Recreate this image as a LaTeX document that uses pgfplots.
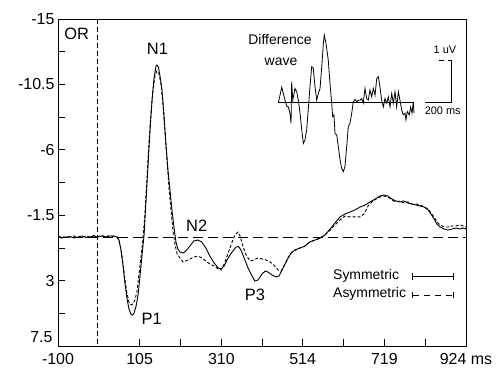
\documentclass[border=0pt]{standalone}
\usepackage{fontspec}
\setmainfont{Liberation Sans}
\usepackage{pgfplots}
\pgfplotsset{compat=1.18}
\begin{document}
\begin{tikzpicture}
\useasboundingbox (-58bp,-24bp) rectangle (443bp,346bp);
\begin{axis}[
  at={(0,0)}, anchor=south west,
  scale only axis, width=408bp, height=327bp,
  xmin=-100, xmax=924, ymin=-15, ymax=7.5, y dir=reverse,
  xtick={-100,105,310,514,719,924},
  xticklabels={-100,105,310,514,719,924 ms},
  minor xtick={207.5,412,616.5,821.5},
  ytick={-15,-10.5,-6,-1.5,3,7.5},
  yticklabels={-15,-10.5,-6,-1.5,3,},
  minor ytick={-12.75,-8.25,-3.75,0.75,5.25},
  tick align=inside, tick pos=left,
  major tick length=7bp, minor tick length=7bp,
  tick style={black, line width=0.8bp},
  axis line style={line width=0.8bp},
  tick label style={font=\fontsize{16}{18}\selectfont},
  xticklabel style={yshift=-4bp},
]
\addplot[black, dash pattern=on 5bp off 3bp, line width=0.8bp] coordinates {(0,-15) (0,7.5)};
\addplot[black, dash pattern=on 10bp off 5bp, line width=0.8bp] coordinates {(-100,0) (924,0)};
% Symmetric
\addplot[black, line width=0.9bp] coordinates {
(-100,0) (-90,0.07) (-80,0) (-70,-0.03) (-60,0.07) (-50,0) (-40,-0.07) (-30,0.03) (-20,0) (-10,-0.07)
(0,0) (10,-0.07) (20,0) (31,-0.07) (41,-0.07) (48,0) (53,0.21) (58,0.89) (63,1.93) (68,3.16)
(73,4.20) (78,4.95) (83,5.30) (87,5.37) (91,5.23) (96,4.75) (101,3.99) (106,2.61) (111,1.24) (116,-0.14)
(121,-2.55) (126,-4.95) (131,-7.36) (136,-9.43) (141,-10.94) (146,-11.76) (148,-11.83) (152,-11.70) (156,-11.08) (161,-10.11)
(166,-8.39) (171,-6.33) (176,-4.61) (181,-3.23) (186,-1.86) (191,-0.69) (196,0.34) (201,0.83) (206,1.03) (214,1.10)
(221,0.96) (231,0.62) (241,0.27) (251,0.21) (261,0.34) (271,0.76) (281,1.31) (292,1.79) (302,2.13) (309,2.20)
(317,2.00) (327,1.44) (337,1.03) (347,0.69) (353,0.65) (359,0.89) (367,1.44) (377,2.13) (387,2.68) (394,3.03)
(402,2.96) (412,2.55) (420,2.34) (427,2.41) (437,2.61) (447,2.75) (455,2.68) (465,2.13) (475,1.58) (485,1.10)
(495,0.89) (507,0.76) (520,0.62) (532,0.34) (545,0.21) (558,0.07) (570,-0.14) (583,-0.55) (595,-0.96) (608,-1.38)
(620,-1.58) (633,-1.72) (645,-1.86) (658,-2.06) (671,-2.20) (683,-2.41) (696,-2.61) (708,-2.82) (718,-2.89) (728,-2.82)
(738,-2.61) (748,-2.48) (758,-2.41) (768,-2.48) (778,-2.34) (788,-2.27) (799,-2.20) (809,-2.13) (819,-2.06) (829,-1.86)
(836,-1.58) (844,-1.24) (851,-0.89) (859,-0.69) (869,-0.55) (879,-0.48) (889,-0.55) (899,-0.62) (909,-0.55) (916,-0.62) (924,-0.55)
};
% Asymmetric
\addplot[black, dash pattern=on 3bp off 2bp, line width=0.9bp] coordinates {
(-100,0) (-90,-0.03) (-80,0.03) (-70,0) (-60,-0.07) (-50,0.03) (-40,0) (-30,-0.07) (-20,0) (-10,-0.10)
(0,-0.03) (10,-0.10) (20,-0.03) (31,-0.10) (41,-0.03) (48,0) (53,0.21) (58,0.83) (63,1.79) (68,2.96)
(73,3.85) (78,4.47) (83,4.68) (88,4.61) (93,4.34) (98,3.78) (103,2.61) (108,1.44) (113,0.21) (118,-1.51)
(123,-3.92) (128,-6.33) (133,-8.39) (138,-9.98) (143,-11.01) (148,-11.42) (153,-11.28) (159,-10.46) (164,-8.94) (169,-7.02)
(174,-5.16) (179,-3.23) (184,-1.72) (189,-0.34) (194,0.55) (199,1.17) (206,1.44) (214,1.72) (221,1.65) (231,1.51)
(241,1.38) (251,1.31) (261,1.44) (271,1.65) (281,1.86) (292,2.00) (302,2.20) (309,2.27) (317,1.86) (327,1.10)
(337,0.34) (344,-0.14) (352,-0.34) (357,-0.07) (364,0.62) (372,1.24) (382,1.65) (392,1.58) (402,1.44) (412,1.51)
(422,1.58) (432,1.72) (442,1.93) (452,2.27) (460,2.34) (467,2.00) (477,1.44) (487,1.03) (497,0.89) (507,0.76)
(520,0.62) (532,0.34) (545,0.21) (558,0.07) (570,-0.14) (583,-0.48) (595,-0.83) (608,-1.17) (620,-1.44) (633,-1.38)
(645,-1.38) (658,-1.38) (668,-1.58) (678,-2.13) (688,-2.41) (698,-2.61) (708,-2.75) (718,-2.82) (728,-2.75) (738,-2.55)
(748,-2.41) (758,-2.48) (768,-2.34) (778,-2.41) (788,-2.27) (799,-2.27) (809,-2.20) (819,-2.06) (829,-1.93) (836,-1.65)
(844,-1.38) (851,-1.03) (859,-0.83) (869,-0.69) (879,-0.69) (889,-0.76) (899,-0.76) (909,-0.83) (916,-0.76) (924,-0.69)
};
\end{axis}
% Inset: difference wave
\begin{axis}[
  at={(220.3bp,159.3bp)}, anchor=south west,
  scale only axis, width=135.7bp, height=168bp,
  xmin=-100, xmax=924, ymin=-2, ymax=2, y dir=reverse,
  hide axis, clip=false,
]
\addplot[black, line width=0.9bp] coordinates {(-100,0) (924,0)};
\addplot[black, line width=0.8bp] coordinates {
(-100,0.01) (-87,-0.18) (-74,-0.37) (-62,-0.22) (-49,-0.06) (-37,0.08) (-25,0.10) (-12,0.25) (-4,0.49) (1,-0.50)
(9,-0.06) (26,-0.34) (39,-0.26) (51,-0.06) (64,0.25) (77,0.65) (89,0.97) (101,0.89) (114,0.65) (126,0.17)
(139,-0.38) (152,-0.86) (164,-0.82) (177,-0.38) (190,-0.06) (202,-0.22) (215,-0.34) (228,-0.86) (240,-1.41) (247,-1.61)
(260,-1.41) (277,-1.02) (290,-0.46) (303,0.01) (310,0.33) (320,0.29) (328,0.73) (341,0.77) (353,1.05) (366,1.36)
(378,1.56) (391,1.64) (403,1.52) (416,1.05) (428,0.57) (441,0.49) (454,0.25) (466,-0.02) (479,-0.08) (492,-0.02)
(504,-0.06) (517,-0.06) (529,-0.10) (541,0.01) (554,-0.34) (567,-0.10) (579,-0.06) (592,-0.30) (605,-0.14) (617,-0.34)
(630,-0.18) (643,-0.58) (655,-0.62) (667,-0.38) (680,-0.06) (693,0.10) (705,-0.10) (718,0.01) (730,-0.14) (743,0.10)
(756,-0.22) (768,0.01) (781,-0.26) (793,0.10) (806,-0.26) (818,-0.06) (831,0.17) (843,0.29) (856,0.25) (863,0.41)
(873,0.21) (888,0.29) (899,0.10) (909,0.25) (919,-0.02) (924,0.25)
};
% scale bars
\draw[black, line width=0.9bp] (axis cs:1008,0) -- (axis cs:1208,0) -- (axis cs:1208,-1) -- (axis cs:1178,-1);
\draw[black, line width=0.9bp] (axis cs:1113,-1) -- (axis cs:1150,-1);
\node[font=\fontsize{11}{12}\selectfont] at (axis cs:1158,-1.25) {1 uV};
\node[font=\fontsize{11}{12}\selectfont] at (axis cs:1141,0.2) {200 ms};
\end{axis}
% bottom y tick label, raised above the corner as in the reference
\node[font=\fontsize{16}{18}\selectfont, anchor=east] at (-2bp,9bp) {7.5};
% Labels (coordinates in bp relative to lower-left corner of main axis)
\node[font=\fontsize{16.5}{18}\selectfont] at (18.7bp,312bp) {OR};
\node[font=\fontsize{16.5}{18}\selectfont] at (99.5bp,297bp) {N1};
\node[font=\fontsize{16.5}{18}\selectfont] at (138.7bp,120bp) {N2};
\node[font=\fontsize{16.5}{18}\selectfont] at (93.7bp,27bp) {P1};
\node[font=\fontsize{16.5}{18}\selectfont] at (197bp,51bp) {P3};
\node[font=\fontsize{14}{16}\selectfont] at (222bp,306bp) {Difference};
\node[font=\fontsize{14}{16}\selectfont] at (223bp,284bp) {wave};
% Legend
\node[font=\fontsize{14}{16}\selectfont, anchor=west, inner sep=0pt] at (275bp,70.3bp) {Symmetric};
\node[font=\fontsize{14}{16}\selectfont, anchor=west, inner sep=0pt] at (275bp,52bp) {Asymmetric};
\draw[black, line width=0.9bp] (354.7bp,69.3bp) -- (395.3bp,69.3bp);
\draw[black, line width=0.9bp] (354.7bp,66bp) -- (354.7bp,72.6bp);
\draw[black, line width=0.9bp] (395.3bp,66bp) -- (395.3bp,72.6bp);
\draw[black, line width=0.9bp, dash pattern=on 6bp off 5bp] (354.7bp,51bp) -- (395.3bp,51bp);
\draw[black, line width=0.9bp] (354.7bp,47.7bp) -- (354.7bp,54.3bp);
\draw[black, line width=0.9bp] (395.3bp,47.7bp) -- (395.3bp,54.3bp);
\end{tikzpicture}
\end{document}
